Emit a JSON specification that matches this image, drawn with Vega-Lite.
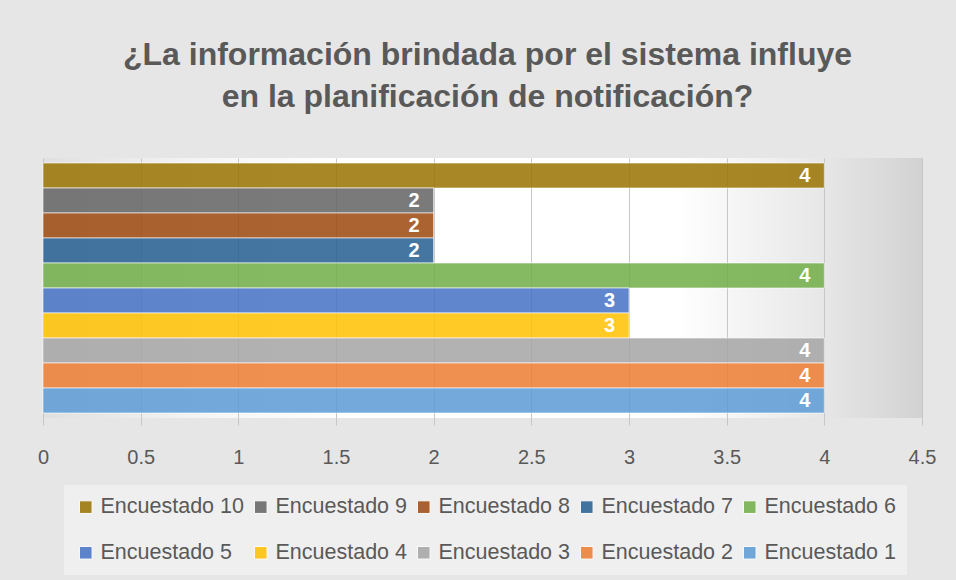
{
  "$schema": "https://vega.github.io/schema/vega-lite/v6.json",
  "width": 879,
  "height": 260,
  "autosize": {"type": "none"},
  "padding": {"left": 43, "top": 158, "right": 34, "bottom": 162},
  "background": "#e6e6e6",
  "title": {
    "text": ["¿La información brindada por el sistema influye", "en la planificación de notificación?"],
    "font": "Liberation Sans",
    "fontSize": 32,
    "fontWeight": "bold",
    "color": "#595959",
    "lineHeight": 42,
    "anchor": "middle",
    "dx": 5,
    "offset": 44
  },
  "config": {
    "view": {
      "stroke": null,
      "fill": {
        "gradient": "linear",
        "x1": 0, "y1": 0.5, "x2": 1, "y2": 0.5,
        "stops": [
          {"offset": 0, "color": "#e0e0e0"},
          {"offset": 0.2, "color": "#f6f6f6"},
          {"offset": 0.35, "color": "#ffffff"},
          {"offset": 0.72, "color": "#ffffff"},
          {"offset": 0.88, "color": "#e8e8e8"},
          {"offset": 1, "color": "#d2d2d2"}
        ]
      }
    },
    "font": "Liberation Sans"
  },
  "data": {
    "values": [
      {"serie": "Encuestado 10", "valor": 4},
      {"serie": "Encuestado 9", "valor": 2},
      {"serie": "Encuestado 8", "valor": 2},
      {"serie": "Encuestado 7", "valor": 2},
      {"serie": "Encuestado 6", "valor": 4},
      {"serie": "Encuestado 5", "valor": 3},
      {"serie": "Encuestado 4", "valor": 3},
      {"serie": "Encuestado 3", "valor": 4},
      {"serie": "Encuestado 2", "valor": 4},
      {"serie": "Encuestado 1", "valor": 4}
    ]
  },
  "encoding": {
    "y": {
      "field": "serie",
      "type": "nominal",
      "sort": ["Encuestado 10", "Encuestado 9", "Encuestado 8", "Encuestado 7", "Encuestado 6", "Encuestado 5", "Encuestado 4", "Encuestado 3", "Encuestado 2", "Encuestado 1"],
      "scale": {"paddingInner": 0, "paddingOuter": 0.2},
      "axis": null
    },
    "x": {
      "field": "valor",
      "type": "quantitative",
      "scale": {"domain": [0, 4.5], "nice": false},
      "axis": {
        "title": null,
        "values": [0, 0.5, 1, 1.5, 2, 2.5, 3, 3.5, 4, 4.5],
        "format": "~g",
        "grid": true,
        "gridColor": "#c6c6c6",
        "domain": false,
        "ticks": true,
        "tickColor": "#c6c6c6",
        "tickSize": 7,
        "labelFont": "Liberation Sans",
        "labelFontSize": 20,
        "labelColor": "#595959",
        "labelPadding": 22,
        "labelFlush": false,
        "labelOverlap": false
      }
    }
  },
  "layer": [
    {
      "mark": {"type": "bar", "fillOpacity": 0.85, "stroke": "#ffffff", "strokeWidth": 1, "strokeOpacity": 0.6},
      "encoding": {
        "color": {
          "field": "serie",
          "type": "nominal",
          "scale": {
            "domain": ["Encuestado 10", "Encuestado 9", "Encuestado 8", "Encuestado 7", "Encuestado 6", "Encuestado 5", "Encuestado 4", "Encuestado 3", "Encuestado 2", "Encuestado 1"],
            "range": ["#997300", "#636363", "#9E480E", "#255E91", "#70AD47", "#4472C4", "#FFC000", "#A5A5A5", "#ED7D31", "#5B9BD5"]
          },
          "legend": {
            "title": null,
            "orient": "none",
            "legendX": 21,
            "legendY": 327,
            "direction": "horizontal",
            "columns": 5,
            "labelFont": "Liberation Sans",
            "labelFontSize": 21.5,
            "labelColor": "#595959",
            "labelLimit": 300,
            "labelOffset": 4,
            "symbolType": "square",
            "symbolSize": 160,
            "symbolOpacity": 0.85,
            "symbolStrokeColor": "#ffffff",
            "symbolStrokeWidth": 1,
            "fillColor": "#efefef",
            "padding": 11,
            "rowPadding": 23,
            "columnPadding": 6,
            "gridAlign": "each"
          }
        }
      }
    },
    {
      "mark": {"type": "text", "align": "right", "baseline": "middle", "dx": -14, "color": "#ffffff", "font": "Liberation Sans", "fontWeight": "bold", "fontSize": 20},
      "encoding": {
        "text": {"field": "valor", "type": "quantitative"}
      }
    }
  ]
}
